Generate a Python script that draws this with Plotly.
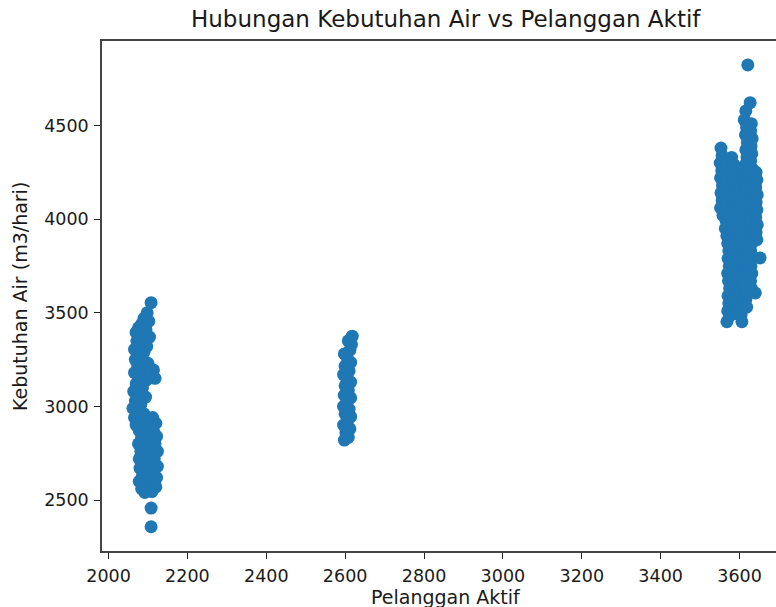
import plotly.graph_objects as go

# ---- data: cluster around ~2100 customers
pelanggan_a = [2108, 2098, 2090, 2084, 2102, 2076, 2095, 2070, 2088, 2104, 2072, 2082, 2097, 2066,
               2090, 2078, 2068, 2086, 2100, 2074, 2114, 2092, 2066, 2118, 2080, 2096, 2070, 2086,
               2064, 2078, 2094, 2068, 2082, 2062, 2074, 2090, 2066, 2080, 2070,
               2112, 2120, 2104, 2090, 2078, 2114, 2096, 2122, 2084, 2106, 2076, 2118, 2092, 2110,
               2082, 2124, 2100, 2078, 2116, 2090, 2106, 2124, 2080, 2096, 2114, 2086, 2104, 2122,
               2078, 2094, 2112, 2084, 2102, 2120, 2092, 2110, 2108, 2108]
kebutuhan_a = [3554, 3500, 3470, 3440, 3455, 3420, 3410, 3395, 3380, 3370, 3350, 3330, 3320, 3305,
               3290, 3270, 3250, 3240, 3230, 3210, 3195, 3190, 3180, 3150, 3160, 3140, 3120, 3100,
               3080, 3060, 3050, 3030, 3010, 2990, 2970, 2960, 2940, 2920, 2900,
               2940, 2910, 2900, 2890, 2870, 2870, 2850, 2840, 2830, 2820, 2800, 2800, 2790, 2770,
               2760, 2760, 2740, 2720, 2720, 2700, 2690, 2680, 2670, 2660, 2650, 2630, 2620, 2620,
               2600, 2590, 2590, 2560, 2560, 2570, 2540, 2545, 2457, 2357]

# ---- data: cluster around ~2600 customers
pelanggan_b = [2598, 2608, 2602, 2612, 2596, 2606, 2614, 2600, 2610, 2596, 2604, 2614, 2598, 2608,
               2600, 2614, 2604, 2596, 2610, 2600, 2614, 2606, 2598, 2612, 2616, 2608, 2618]
kebutuhan_b = [2820, 2835, 2860, 2880, 2900, 2920, 2945, 2960, 2985, 3000, 3025, 3045, 3060, 3085,
               3110, 3130, 3150, 3170, 3190, 3215, 3235, 3255, 3280, 3300, 3330, 3350, 3375]

# ---- data: cluster around ~3600 customers
pelanggan_c = [3553, 3556, 3551, 3555, 3552, 3557, 3553, 3556, 3552, 3558,
               3564, 3566, 3562, 3565, 3563, 3567, 3562, 3566, 3564, 3568,
               3570, 3573, 3571, 3574, 3570, 3572, 3575, 3571, 3573, 3570, 3568, 3574,
               3580, 3586, 3582, 3585, 3581, 3587, 3583, 3586, 3580, 3585, 3582, 3587, 3581, 3586,
               3582, 3585, 3580, 3586, 3582, 3585, 3581, 3586,
               3600, 3596, 3598, 3594, 3597, 3595, 3599, 3594, 3597, 3595, 3598, 3594, 3597, 3595,
               3599, 3594, 3597, 3595, 3598,
               3610, 3606, 3608, 3605, 3609, 3606, 3608, 3604, 3609, 3606, 3608, 3605, 3609, 3606,
               3608, 3605, 3609, 3606, 3604, 3606,
               3616, 3627, 3621, 3612, 3618, 3615, 3620, 3616, 3619, 3615, 3620, 3617, 3619, 3615,
               3620, 3616, 3619, 3615, 3620, 3617, 3619, 3615, 3620, 3616, 3618, 3615, 3619, 3616, 3618,
               3630, 3628, 3632, 3629, 3631, 3628, 3632, 3629, 3631, 3628, 3632, 3629, 3631, 3628,
               3632, 3629, 3631, 3628, 3632, 3629, 3631, 3628, 3630,
               3642, 3644, 3641, 3645, 3642, 3644, 3641, 3645, 3642, 3644, 3652, 3640]
kebutuhan_c = [4380, 4340, 4300, 4260, 4220, 4180, 4140, 4100, 4060, 4020,
               4290, 4240, 4200, 4150, 4110, 4070, 4030, 3990, 3950, 3910,
               3870, 3830, 3790, 3750, 3710, 3670, 3630, 3590, 3550, 3510, 3452, 3480,
               4330, 4290, 4250, 4210, 4170, 4130, 4090, 4050, 4010, 3970, 3930, 3890, 3850, 3810,
               3770, 3730, 3690, 3650, 3610, 3570, 3530, 3495,
               4240, 4200, 4160, 4120, 4080, 4040, 4000, 3960, 3920, 3880, 3840, 3800, 3760, 3720,
               3680, 3640, 3600, 3560, 3520,
               4210, 4170, 4130, 4090, 4050, 4010, 3970, 3930, 3890, 3850, 3810, 3770, 3730, 3690,
               3650, 3610, 3570, 3530, 3490, 3452,
               4578, 4622, 4824, 4530, 4490, 4450, 4410, 4370, 4330, 4290, 4250, 4210, 4170, 4130,
               4090, 4050, 4010, 3970, 3930, 3890, 3850, 3810, 3770, 3730, 3690, 3650, 3610, 3570, 3530,
               4510, 4470, 4430, 4390, 4350, 4310, 4270, 4230, 4190, 4150, 4110, 4070, 4030, 3990,
               3950, 3910, 3870, 3830, 3790, 3750, 3710, 3670, 3630,
               4250, 4210, 4170, 4130, 4090, 4050, 4010, 3970, 3930, 3890, 3793, 3606]

x_ticks = [2000, 2200, 2400, 2600, 2800, 3000, 3200, 3400, 3600]
y_ticks = [2500, 3000, 3500, 4000, 4500]

pelanggan = pelanggan_a + pelanggan_b + pelanggan_c
kebutuhan = kebutuhan_a + kebutuhan_b + kebutuhan_c

FONT = "DejaVu Sans"
TXT = "#1a1a1a"

fig = go.Figure(go.Scatter(
    x=pelanggan, y=kebutuhan, mode="markers",
    marker=dict(color="#1f77b4", size=13, line=dict(width=0)),
    hoverinfo="x+y",
))

fig.update_layout(
    width=776, height=607,
    margin=dict(l=102, r=0, t=41, b=56),
    paper_bgcolor="white", plot_bgcolor="white",
    showlegend=False,
    font=dict(family=FONT, color=TXT),
    xaxis=dict(range=[1983.5, 3692.5], tickvals=x_ticks, ticktext=[str(v) for v in x_ticks],
               ticks="outside", ticklen=6, tickwidth=1.2, tickcolor="#222",
               showline=True, linecolor="#444", linewidth=1.5, mirror=True,
               showgrid=False, zeroline=False, tickfont=dict(size=17.5, color=TXT),
               ticklabelstandoff=2),
    yaxis=dict(range=[2227.6, 4951.6], tickvals=y_ticks, ticktext=[str(v) for v in y_ticks],
               ticks="outside", ticklen=6, tickwidth=1.2, tickcolor="#222",
               showline=True, linecolor="#444", linewidth=1.5, mirror=False,
               showgrid=False, zeroline=False, tickfont=dict(size=17.5, color=TXT),
               ticklabelstandoff=2),
    annotations=[
        dict(text="Hubungan Kebutuhan Air vs Pelanggan Aktif", xref="paper", yref="paper",
             x=0.510, y=1.0431, xanchor="center", yanchor="middle", showarrow=False,
             font=dict(size=23, color=TXT, family=FONT)),
        dict(text="Pelanggan Aktif", xref="paper", yref="paper",
             x=0.510, y=-0.0902, xanchor="center", yanchor="middle", showarrow=False,
             font=dict(size=19, color=TXT, family=FONT)),
        dict(text="Kebutuhan Air (m3/hari)", xref="paper", yref="paper",
             x=-0.1217, y=0.5, xanchor="center", yanchor="middle", showarrow=False,
             textangle=-90, font=dict(size=19, color=TXT, family=FONT)),
    ],
)

fig.write_html(
    "out.html",
    config={"displayModeBar": False},
    post_script="document.body.style.margin='0';document.body.style.padding='0';"
                "document.body.style.overflow='hidden';",
)
